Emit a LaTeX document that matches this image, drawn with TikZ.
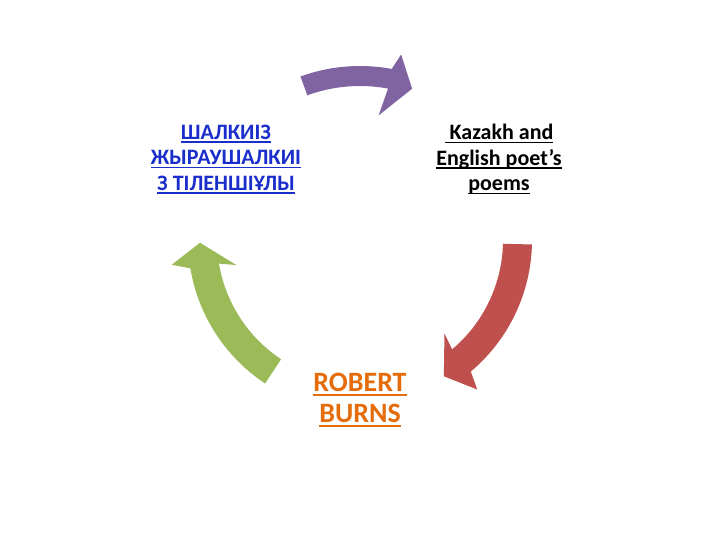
\documentclass[tikz,border=0pt]{standalone}
\usepackage{fontspec}
\setmainfont{Carlito}
\usetikzlibrary{positioning}
\definecolor{CycPurple}{HTML}{8064A2}
\definecolor{CycRed}{HTML}{C0504D}
\definecolor{CycGreen}{HTML}{9BBB59}
\definecolor{LinkBlue}{HTML}{1A2ECC}
\definecolor{BurnsOrange}{HTML}{E46C0A}
\tikzset{
  x=1pt,y=1pt,
  cyctext/.style={align=center,inner sep=0pt,font=\bfseries\fontsize{22}{25.5}\selectfont},
  burnstext/.style={align=center,inner sep=0pt,text=BurnsOrange,font=\bfseries\fontsize{28}{30.5}\selectfont}
}
\newsavebox{\ulbox}
\newcommand{\ulline}[1]{\sbox{\ulbox}{#1}\rlap{\rule[-0.16em]{\wd\ulbox}{0.075em}}\usebox{\ulbox}}
% #1 colour, #2 tail angle, #3 tip angle, #4 inner radius, #5 outer radius
\newcommand{\cyclearrow}[5]{%
  \fill[#1] ([shift={(hub)}]#2:#5) arc[start angle=#2, end angle=#3+8.5, radius=#5pt]
    -- ([shift={(hub)}]#3+6.5:190) -- ([shift={(hub)}]#3:160)
    -- ([shift={(hub)}]#3+10.5:126) -- ([shift={(hub)}]#3+8.5:#4)
    arc[start angle=#3+8.5, end angle=#2, radius=#4pt] -- cycle;
}

\begin{document}
\begin{tikzpicture}
  \useasboundingbox[fill=white] (0,0) rectangle (720,540);
  \coordinate (hub) at (360,300);

  \cyclearrow{CycPurple}{110}{71}{154}{174}
  \cyclearrow{CycRed}{-1.5}{-58.4}{143}{172}
  \cyclearrow{CycGreen}{236.5}{181}{143}{172}

  \node[cyctext,text=LinkBlue] (poets) at (226,380.5)
    {\ulline{ШАЛКИІЗ}\\\ulline{ЖЫРАУШАЛКИІ}\\\ulline{З ТІЛЕНШІҰЛЫ}};
  \node[cyctext] (kazakh) at (499,380.5)
    {\ulline{\ Kazakh and}\\\ulline{English poet’s}\\\ulline{poems}};
  \node[burnstext] (burns) at (360,140)
    {\ulline{ROBERT}\\\ulline{BURNS}};
\end{tikzpicture}
\end{document}
